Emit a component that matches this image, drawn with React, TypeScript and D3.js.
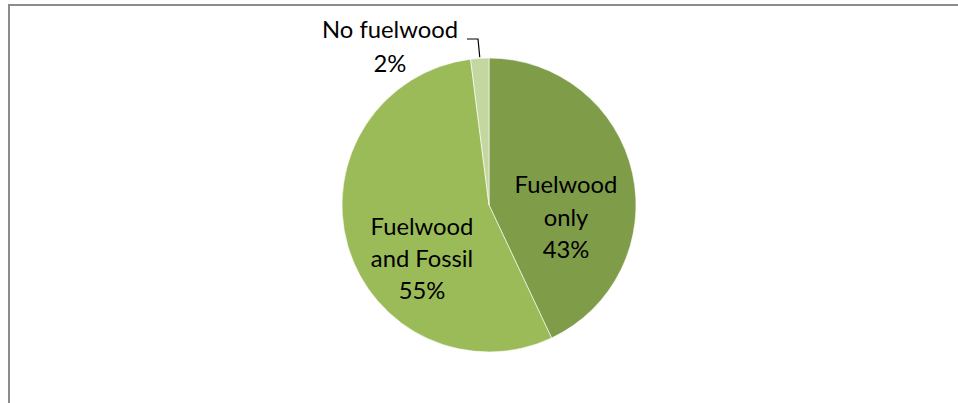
import React from "react";
import * as d3 from "d3";

const categories = ["Fuelwood only", "Fuelwood and Fossil", "No fuelwood"];
const values = [43, 55, 2];
const colors = ["#7F9C49", "#9BBB59", "#C4D7A0"];

const W = 958;
const H = 403;
const cx = 489;
const cy = 205;
const R = 147;
const FONT = "Lato, 'Open Sans', sans-serif";
const FS = 23.8;

export default function App() {
  const pie = d3.pie<number>().sort(null).value((d) => d);
  const arcs = pie(values);
  const arcGen = d3.arc<d3.PieArcDatum<number>>().innerRadius(0).outerRadius(R);

  const labelLines = [
    ["Fuelwood", "only", "43%"],
    ["Fuelwood", "and Fossil", "55%"],
    ["No fuelwood", "2%"],
  ];
  const labelPos = [
    { x: 566 - cx, y: 193 - cy, lh: 32.5 },
    { x: 422 - cx, y: 235 - cy, lh: 32 },
    { x: 390 - cx, y: 38 - cy, lh: 34 },
  ];

  const small = arcs[2];
  const midA = (small.startAngle + small.endAngle) / 2;
  const edge = [Math.sin(midA) * R, -Math.cos(midA) * R];

  return (
    <svg width={W} height={H} style={{ display: "block", position: "absolute", left: 0, top: 0 }}>
      <rect x={0} y={0} width={W} height={H} fill="#fff" />
      <path d={`M9,${H} L9,5 L${W},5`} fill="none" stroke="#8c8c8c" strokeWidth={2} />
      <g transform={`translate(${cx},${cy})`}>
        {arcs.map((a, i) => (
          <path key={categories[i]} d={arcGen(a) || ""} fill={colors[i]} stroke="#fff" strokeWidth={0.6} />
        ))}
        <polyline
          points={`${467 - cx},${39 - cy} ${478 - cx},${39 - cy} ${edge[0]},${edge[1] - 1}`}
          fill="none"
          stroke="#000"
          strokeWidth={1.2}
        />
        {labelLines.map((lines, i) => (
          <text key={i} textAnchor="middle" fontFamily={FONT} fontSize={FS} fill="#000">
            {lines.map((l, j) => (
              <tspan key={j} x={labelPos[i].x} y={labelPos[i].y + j * labelPos[i].lh}>
                {l}
              </tspan>
            ))}
          </text>
        ))}
      </g>
    </svg>
  );
}
